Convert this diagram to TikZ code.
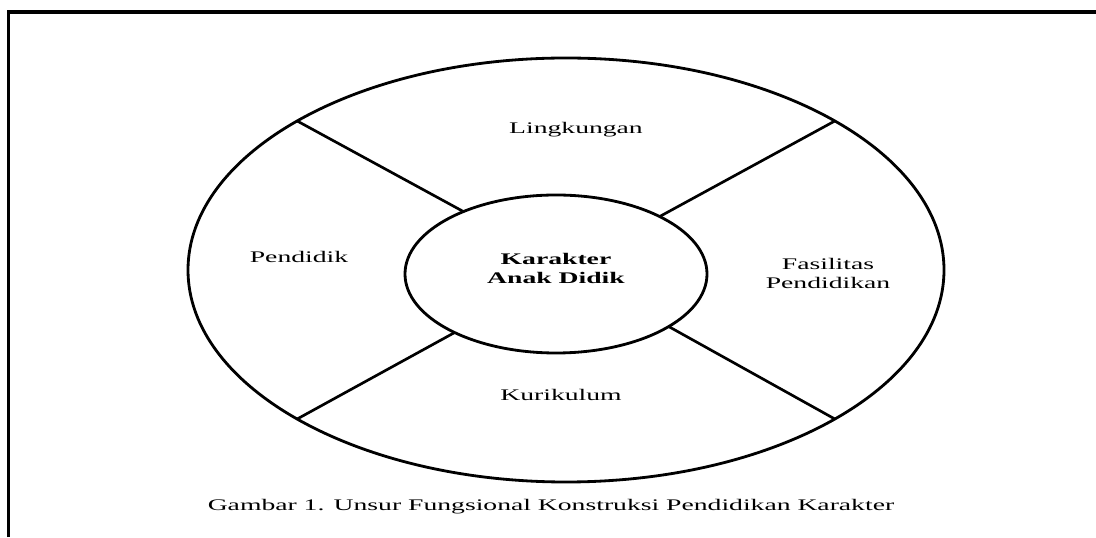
\documentclass[tikz,border=0pt]{standalone}
\usepackage{fontspec}
\setmainfont{Liberation Serif}
\usepackage{tikz}
\usetikzlibrary{shapes.geometric}
\tikzstyle{ring} = [draw, ellipse, line width=2pt, inner sep=0pt, outer sep=0pt]
\tikzstyle{divider} = [line width=1.9pt]
\tikzstyle{unsur} = [font=\fontsize{11.5}{13.5}\selectfont, xscale=1.71, align=center]

\begin{document}
\begin{tikzpicture}
\useasboundingbox (0,0) rectangle (27.4,13.425);

% Frame
\draw[line width=2.2pt] (0.2125,0) -- (0.2125,13.125) -- (27.4,13.125);

% Outer and inner ellipse
\node[ring, minimum width=18.9cm, minimum height=10.6cm] (outer) at (14.15,6.675) {};
\node[ring, minimum width=7.55cm, minimum height=3.95cm] (inner) at (13.9,6.575) {};

% Dividers
\draw[divider] (inner.146) -- (outer.151);
\draw[divider] (inner.29) -- (outer.29);
\draw[divider] (inner.210) -- (outer.209);
\draw[divider] (inner.335) -- (outer.331);

% Unsur
\node[unsur, anchor=base] (lingkungan) at (14.4,10.075) {Lingkungan};
\node[unsur, anchor=base] (pendidik) at (7.475,6.85) {Pendidik};
\node[unsur, font=\fontsize{11.5}{13.5}\selectfont\bfseries] (karakter) at (13.9,6.725) {Karakter\\Anak Didik};
\node[unsur] (fasilitas) at (20.7,6.5875) {Fasilitas\\Pendidikan};
\node[unsur, anchor=base] (kurikulum) at (14.025,3.4) {Kurikulum};

% Caption
\node[unsur, anchor=base] (gambar) at (13.775,0.675) {Gambar 1. Unsur Fungsional Konstruksi Pendidikan Karakter};
\end{tikzpicture}
\end{document}
